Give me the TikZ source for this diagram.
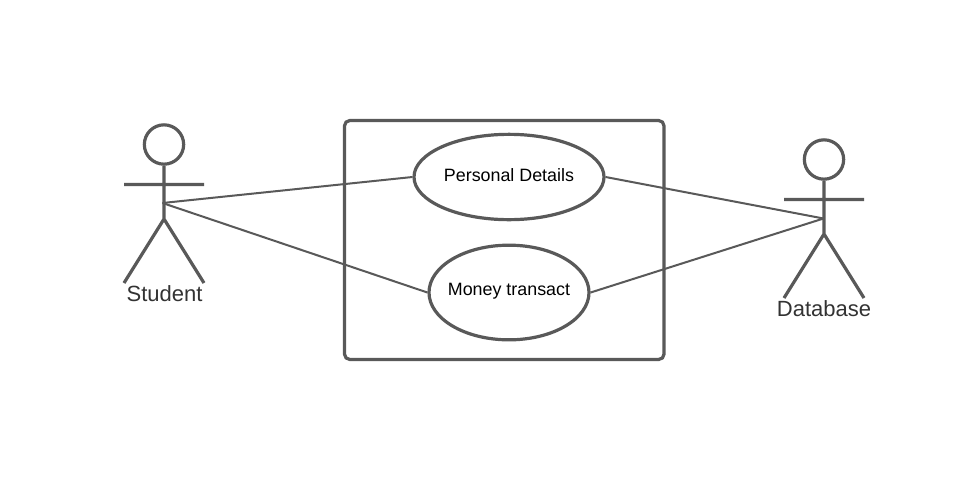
\documentclass[tikz,border=0pt]{standalone}
\usepackage{fontspec}
\setmainfont{Liberation Sans}
\usetikzlibrary{shapes.geometric}
\definecolor{ink}{HTML}{595959}
\definecolor{lbl}{HTML}{333333}
\tikzset{x=0.75pt,y=-0.75pt,
 bold/.style={draw=ink,line width=2.4pt},
 usecase/.style={bold,ellipse,inner sep=0pt,fill=white},
 conn/.style={draw=ink,line width=1.5pt},
 actorlabel/.style={text=lbl,font=\fontsize{16.5pt}{18pt}\selectfont,inner sep=0pt},
 uclabel/.style={text=black,font=\fontsize{13.4pt}{15pt}\selectfont,inner sep=0pt}}
\begin{document}
\begin{tikzpicture}
\useasboundingbox[fill=white] (0,0) rectangle (957,497);
\draw[bold,rounded corners=4pt] (344.5,120.5) rectangle (664,359.5);
\node[usecase,minimum width=142.5pt,minimum height=64pt] (pd) at (509,177) {};
\node[usecase,minimum width=120pt,minimum height=71pt] (mt) at (509,292.5) {};
\node[uclabel] (pdt) at (509,175.5) {Personal Details};
\node[uclabel] (mtt) at (509,291) {Money transact};
% Student
\node[bold,circle,inner sep=0pt,minimum size=29.5pt] (sh) at (164,144.5) {};
\coordinate (sn) at (162.5,203);
\coordinate (sb) at (164,219);
\coordinate (sal) at (124,184.5);
\coordinate (sar) at (204,184.5);
\coordinate (sfl) at (124,283);
\coordinate (sfr) at (204,283);
\draw[bold] (sh.south) -- (sb) (sal) -- (sar) (sfl) -- (sb) -- (sfr);
\node[actorlabel] (sl) at (164.5,293.5) {Student};
% Database
\node[bold,circle,inner sep=0pt,minimum size=29.5pt] (dh) at (824,159.5) {};
\coordinate (dn) at (823.5,218.5);
\coordinate (db) at (824,234);
\coordinate (dal) at (784,199.5);
\coordinate (dar) at (864,199.5);
\coordinate (dfl) at (784,298);
\coordinate (dfr) at (864,298);
\draw[bold] (dh.south) -- (db) (dal) -- (dar) (dfl) -- (db) -- (dfr);
\node[actorlabel] (dl) at (824,308.5) {Database};
% connectors
\draw[conn] (sn) -- (pd.west);
\draw[conn] (sn) -- (mt.west);
\draw[conn] (pd.east) -- (dn);
\draw[conn] (mt.east) -- (dn);
\end{tikzpicture}
\end{document}
